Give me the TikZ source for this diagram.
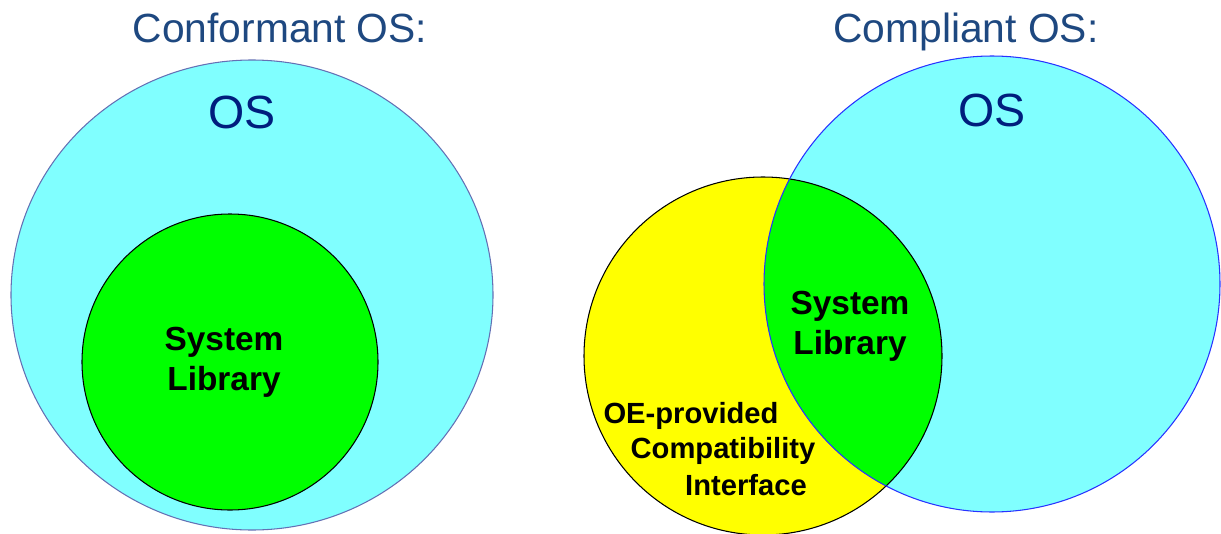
\documentclass[tikz,border=0pt]{standalone}
\usepackage{fontspec}
\setmainfont{Liberation Sans}
\definecolor{oscyan}{RGB}{128,255,255}
\definecolor{libgreen}{RGB}{0,255,0}
\definecolor{oeyellow}{RGB}{255,255,0}
\definecolor{titleblue}{RGB}{30,72,128}
\definecolor{osblue}{RGB}{0,30,125}
\definecolor{rimgray}{RGB}{100,112,180}
\definecolor{rimblue}{RGB}{40,50,255}
\tikzset{
	title/.style={anchor=base,text=titleblue,font=\fontsize{23.2}{28}\selectfont},
	oslabel/.style={anchor=base,text=osblue,font=\fontsize{26.5}{30}\selectfont},
	liblabel/.style={align=center,font=\bfseries\fontsize{19}{22.7}\selectfont},
	oelabel/.style={anchor=base,font=\bfseries\fontsize{16.6}{20}\selectfont}
}
\begin{document}
\begin{tikzpicture}[x=0.02cm,y=-0.02cm,line width=0.6pt]
			\useasboundingbox (0,0) rectangle (1221,534);
			% conformant OS
			\fill[oscyan] (252,295) ellipse (241 and 235);
			\draw[rimgray] (252,295) ellipse (241 and 235);
			\fill[libgreen] (230,362) circle (148);
			\draw (230,362) circle (148);
			% compliant OS
			\fill[oeyellow] (763,356) circle (179);
			\fill[oscyan] (992,284) circle (228);
			\begin{scope}
				\clip (763,356) circle (179);
				\fill[libgreen] (992,284) circle (228);
			\end{scope}
			\draw (763,356) circle (179);
			\draw[rimblue] (992,284) circle (228);
			% labels
			\node[title] (conftitle) at (280,42) {Conformant OS:};
			\node[title] (comptitle) at (966,42) {Compliant OS:};
			\node[oslabel] (confos) at (242,128) {OS};
			\node[oslabel] (compos) at (992,126) {OS};
			\node[liblabel] (conflib) at (224,362) {System\\Library};
			\node[liblabel] (complib) at (850,326) {System\\Library};
			\node[oelabel] (oeline) at (691,423) {OE-provided};
			\node[oelabel] (compatline) at (723,458) {Compatibility};
			\node[oelabel] (ifaceline) at (746,495) {Interface};
		\end{tikzpicture}
\end{document}
